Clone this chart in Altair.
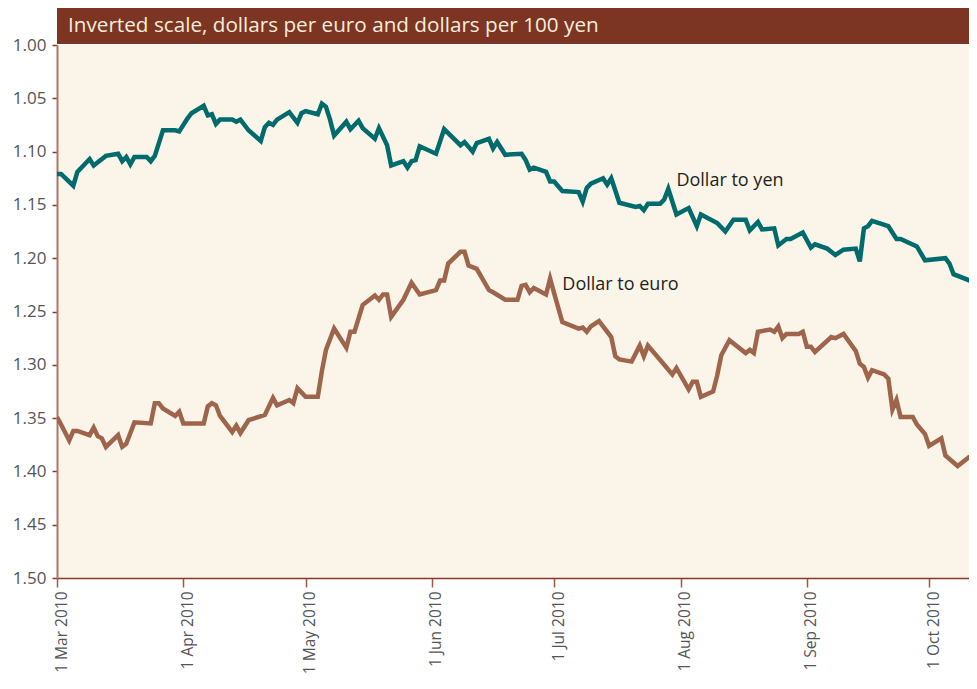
import altair as alt
import pandas as pd

TITLE = "Inverted scale, dollars per euro and dollars per 100 yen"
SERIES = ["Dollar to yen", "Dollar to euro"]
COLORS = ["#006b6d", "#9e654c"]

yen_dates = [
    "2010-03-01", "2010-03-02", "2010-03-05", "2010-03-06", "2010-03-09", "2010-03-10",
    "2010-03-13", "2010-03-16", "2010-03-17", "2010-03-18", "2010-03-19", "2010-03-20",
    "2010-03-23", "2010-03-24", "2010-03-25", "2010-03-27", "2010-03-30", "2010-03-31",
    "2010-04-02", "2010-04-03", "2010-04-06", "2010-04-07", "2010-04-08", "2010-04-09",
    "2010-04-10", "2010-04-13", "2010-04-14", "2010-04-15", "2010-04-17", "2010-04-20",
    "2010-04-21", "2010-04-22", "2010-04-23", "2010-04-24", "2010-04-27", "2010-04-29",
    "2010-04-30",
    "2010-05-01", "2010-05-04", "2010-05-05", "2010-05-06", "2010-05-07", "2010-05-08",
    "2010-05-11", "2010-05-12", "2010-05-14", "2010-05-15", "2010-05-18", "2010-05-19",
    "2010-05-21", "2010-05-22", "2010-05-25", "2010-05-26", "2010-05-27", "2010-05-28",
    "2010-05-29",
    "2010-06-02", "2010-06-04", "2010-06-08", "2010-06-09", "2010-06-11", "2010-06-12",
    "2010-06-15", "2010-06-16", "2010-06-17", "2010-06-19", "2010-06-23", "2010-06-24",
    "2010-06-25", "2010-06-26", "2010-06-29", "2010-06-30",
    "2010-07-01", "2010-07-03", "2010-07-07", "2010-07-08", "2010-07-09", "2010-07-10",
    "2010-07-13", "2010-07-14", "2010-07-15", "2010-07-17", "2010-07-21", "2010-07-22",
    "2010-07-23", "2010-07-24", "2010-07-27", "2010-07-28", "2010-07-29", "2010-07-31",
    "2010-08-03", "2010-08-05", "2010-08-06", "2010-08-10", "2010-08-12", "2010-08-14",
    "2010-08-17", "2010-08-18", "2010-08-20", "2010-08-21", "2010-08-24", "2010-08-25",
    "2010-08-27", "2010-08-28", "2010-08-31",
    "2010-09-02", "2010-09-03", "2010-09-06", "2010-09-08", "2010-09-10", "2010-09-13",
    "2010-09-14", "2010-09-15", "2010-09-16", "2010-09-17", "2010-09-21", "2010-09-23",
    "2010-09-24", "2010-09-28", "2010-09-30",
    "2010-10-05", "2010-10-06", "2010-10-07", "2010-10-11",
]
yen_values = [
    1.121, 1.121, 1.132, 1.119, 1.107, 1.113, 1.104, 1.102, 1.109, 1.105, 1.112, 1.105,
    1.105, 1.109, 1.104, 1.080, 1.080, 1.081,
    1.069, 1.064, 1.057, 1.066, 1.065, 1.074, 1.070, 1.070, 1.072, 1.070, 1.080, 1.090,
    1.077, 1.073, 1.075, 1.070, 1.063, 1.073, 1.064,
    1.062, 1.065, 1.055, 1.058, 1.070, 1.085, 1.072, 1.079, 1.071, 1.078, 1.088, 1.078,
    1.094, 1.113, 1.109, 1.115, 1.109, 1.108, 1.095,
    1.102, 1.079, 1.094, 1.091, 1.100, 1.092, 1.088, 1.097, 1.091, 1.103, 1.102, 1.108,
    1.117, 1.115, 1.119, 1.128,
    1.128, 1.137, 1.138, 1.147, 1.134, 1.130, 1.125, 1.131, 1.125, 1.148, 1.152, 1.151,
    1.155, 1.149, 1.149, 1.145, 1.135, 1.159,
    1.153, 1.170, 1.159, 1.167, 1.175, 1.164, 1.164, 1.174, 1.166, 1.173, 1.172, 1.188,
    1.182, 1.182, 1.176,
    1.190, 1.187, 1.191, 1.197, 1.192, 1.191, 1.203, 1.172, 1.170, 1.165, 1.170, 1.182,
    1.182, 1.189, 1.202,
    1.200, 1.205, 1.215, 1.221,
]

euro_dates = [
    "2010-03-01", "2010-03-02", "2010-03-04", "2010-03-05", "2010-03-06", "2010-03-09",
    "2010-03-10", "2010-03-11", "2010-03-12", "2010-03-13", "2010-03-16", "2010-03-17",
    "2010-03-18", "2010-03-20", "2010-03-24", "2010-03-25", "2010-03-26", "2010-03-27",
    "2010-03-30", "2010-03-31",
    "2010-04-01", "2010-04-06", "2010-04-07", "2010-04-08", "2010-04-09", "2010-04-10",
    "2010-04-13", "2010-04-14", "2010-04-15", "2010-04-17", "2010-04-21", "2010-04-23",
    "2010-04-24", "2010-04-27", "2010-04-28", "2010-04-29",
    "2010-05-01", "2010-05-04", "2010-05-05", "2010-05-06", "2010-05-08", "2010-05-11",
    "2010-05-12", "2010-05-13", "2010-05-15", "2010-05-18", "2010-05-19", "2010-05-20",
    "2010-05-21", "2010-05-22", "2010-05-25", "2010-05-27", "2010-05-29",
    "2010-06-02", "2010-06-03", "2010-06-04", "2010-06-05", "2010-06-08", "2010-06-09",
    "2010-06-10", "2010-06-12", "2010-06-15", "2010-06-16", "2010-06-19", "2010-06-22",
    "2010-06-23", "2010-06-24", "2010-06-25", "2010-06-26", "2010-06-29", "2010-06-30",
    "2010-07-01", "2010-07-03", "2010-07-07", "2010-07-08", "2010-07-09", "2010-07-10",
    "2010-07-12", "2010-07-13", "2010-07-15", "2010-07-16", "2010-07-17", "2010-07-20",
    "2010-07-22", "2010-07-23", "2010-07-24", "2010-07-28", "2010-07-30", "2010-07-31",
    "2010-08-03", "2010-08-04", "2010-08-05", "2010-08-06", "2010-08-09", "2010-08-10",
    "2010-08-11", "2010-08-13", "2010-08-17", "2010-08-18", "2010-08-19", "2010-08-20",
    "2010-08-23", "2010-08-24", "2010-08-25", "2010-08-26", "2010-08-27", "2010-08-30",
    "2010-08-31",
    "2010-09-01", "2010-09-02", "2010-09-03", "2010-09-07", "2010-09-08", "2010-09-10",
    "2010-09-13", "2010-09-14", "2010-09-15", "2010-09-16", "2010-09-17", "2010-09-20",
    "2010-09-21", "2010-09-22", "2010-09-23", "2010-09-24", "2010-09-27", "2010-09-28",
    "2010-09-30",
    "2010-10-01", "2010-10-04", "2010-10-05", "2010-10-08", "2010-10-11",
]
euro_values = [
    1.349, 1.356, 1.371, 1.362, 1.362, 1.366, 1.359, 1.367, 1.369, 1.377, 1.366, 1.377,
    1.374, 1.354, 1.355, 1.336, 1.336, 1.341, 1.348, 1.344,
    1.355, 1.355, 1.339, 1.336, 1.338, 1.348, 1.363, 1.357, 1.364, 1.352, 1.347, 1.331,
    1.338, 1.333, 1.336, 1.322,
    1.330, 1.330, 1.306, 1.286, 1.266, 1.284, 1.269, 1.269, 1.244, 1.235, 1.239, 1.234,
    1.234, 1.255, 1.239, 1.223, 1.234,
    1.230, 1.221, 1.221, 1.205, 1.194, 1.194, 1.207, 1.210, 1.230, 1.232, 1.239, 1.239,
    1.226, 1.225, 1.232, 1.228, 1.234, 1.219,
    1.233, 1.260, 1.266, 1.265, 1.269, 1.264, 1.259, 1.264, 1.274, 1.292, 1.295, 1.297,
    1.282, 1.292, 1.282, 1.300, 1.309, 1.303,
    1.323, 1.316, 1.316, 1.330, 1.325, 1.310, 1.291, 1.277, 1.289, 1.286, 1.289, 1.269,
    1.267, 1.269, 1.264, 1.275, 1.271, 1.271, 1.269,
    1.283, 1.283, 1.288, 1.274, 1.275, 1.271, 1.287, 1.299, 1.302, 1.312, 1.305, 1.309,
    1.313, 1.342, 1.333, 1.349, 1.349, 1.356, 1.365,
    1.376, 1.369, 1.385, 1.395, 1.386,
]

label_dates = ["2010-07-31", "2010-07-03"]
label_values = [1.128, 1.225]

y_ticks = [1.00, 1.05, 1.10, 1.15, 1.20, 1.25, 1.30, 1.35, 1.40, 1.45, 1.50]
x_ticks = ["2010-03-01", "2010-04-01", "2010-05-01", "2010-06-01",
           "2010-07-01", "2010-08-01", "2010-09-01", "2010-10-01"]
x_domain = ["2010-03-01T00:00", "2010-10-10T19:00"]
y_domain = [1.00, 1.50]

FONT = "Open Sans"
W, H = 912, 533


def dt(s):
    t = pd.Timestamp(s)
    return alt.DateTime(year=t.year, month=t.month, date=t.day, hours=t.hour, utc=True)


lines_df = pd.DataFrame({
    "date": yen_dates + euro_dates,
    "value": yen_values + euro_values,
    "series": [SERIES[0]] * len(yen_dates) + [SERIES[1]] * len(euro_dates),
})
labels_df = pd.DataFrame({"date": label_dates, "value": label_values, "series": SERIES})
title_df = pd.DataFrame({"t": [TITLE]})

x_enc = alt.X(
    "date:T",
    scale=alt.Scale(type="utc", domain=[dt(d) for d in x_domain]),
    axis=alt.Axis(
        values=[dt(d) for d in x_ticks], format="%-d %b %Y", title=None, grid=False,
        domainColor="#8b3a25", domainWidth=1.5, tickColor="#9c5a48", tickWidth=1.5,
        tickSize=9, labelAngle=270, labelAlign="right", labelBaseline="middle",
        labelOffset=4, labelPadding=4, labelFont=FONT, labelFontSize=15.5,
        labelColor="#555555", labelFlush=False, labelOverlap=False,
    ),
)
y_enc = alt.Y(
    "value:Q",
    scale=alt.Scale(domain=y_domain, reverse=True, nice=False, zero=False),
    axis=alt.Axis(
        values=y_ticks, format=".2f", title=None, grid=False,
        domainColor="#a8786a", domainWidth=2, tickColor="#8b3a25", tickWidth=1.5,
        tickSize=5, labelPadding=6, labelFont=FONT, labelFontSize=17,
        labelColor="#555555",
    ),
)
color_enc = alt.Color("series:N", scale=alt.Scale(domain=SERIES, range=COLORS), legend=None)

bar = alt.Chart(title_df).mark_rect(color="#7b3522").encode(
    x=alt.value(0), x2=alt.value(W), y=alt.value(-37), y2=alt.value(-1)
)
title_text = alt.Chart(title_df).mark_text(
    align="left", baseline="middle", font=FONT, fontSize=20.7, color="#f6ecdc"
).encode(x=alt.value(11), y=alt.value(-19), text="t:N")

lines = alt.Chart(lines_df).mark_line(strokeWidth=4.5, clip=True).encode(
    x=x_enc, y=y_enc, color=color_enc, order=alt.Order("date:T")
)
labels = alt.Chart(labels_df).mark_text(
    align="left", baseline="middle", font=FONT, fontSize=18, color="#231f20"
).encode(x="date:T", y="value:Q", text="series:N")

chart = alt.layer(bar, title_text, lines, labels).properties(
    width=W, height=H,
    autosize=alt.AutoSizeParams(type="none"),
    padding={"left": 49, "top": 37, "right": 0, "bottom": 98},
    background="white",
).configure_view(fill="#fbf4e8", stroke=None)

chart.save("out.html", embed_options={"renderer": "svg", "actions": False})
